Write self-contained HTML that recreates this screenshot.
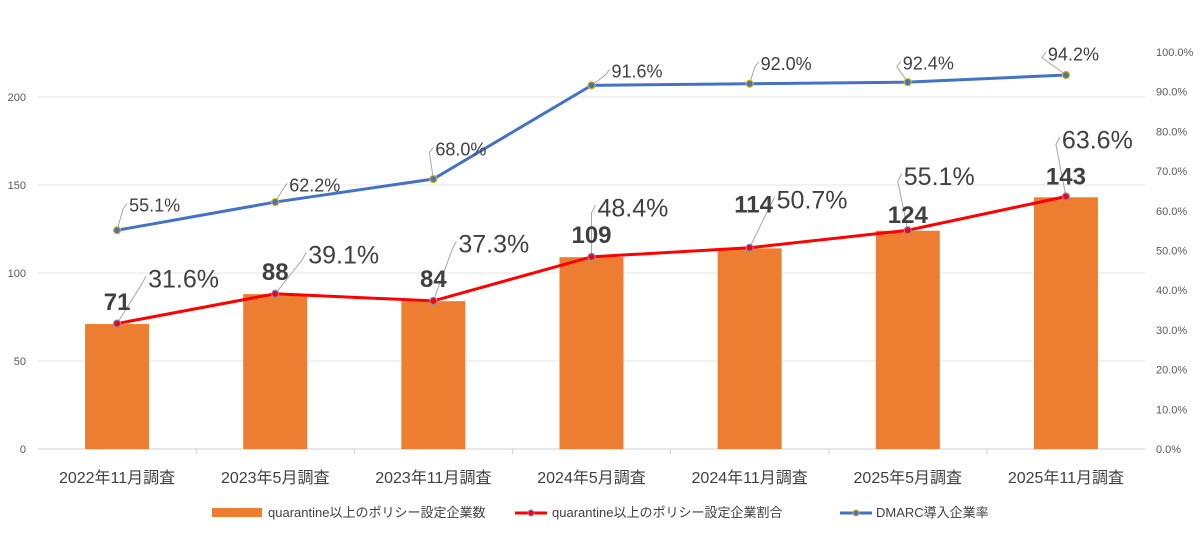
<!DOCTYPE html>
<html><head><meta charset="utf-8"><style>
body{margin:0;background:#fff;}
svg{display:block;font-family:"Liberation Sans","Noto Sans CJK JP",sans-serif;}
</style></head><body>
<svg id="c" width="1200" height="533"></svg>
<script>
const categories=["2022年11月調査","2023年5月調査","2023年11月調査","2024年5月調査","2024年11月調査","2025年5月調査","2025年11月調査"];
const barValues=[71,88,84,109,114,124,143];
const quarantineRate=[31.6,39.1,37.3,48.4,50.7,55.1,63.6];
const dmarcRate=[55.1,62.2,68.0,91.6,92.0,92.4,94.2];
const leftTicks=[0,50,100,150,200];
const rightTicks=[0,10,20,30,40,50,60,70,80,90,100];
// layout offsets (label placement relative to point)
const blueOff=[[12,-25],[14,-17],[2,-30],[20,-14],[11,-20],[-5,-19],[-18,-21]];
const redOff=[[31,-45],[33,-39],[25,-57],[6,-49],[27,-48],[-4,-54],[-4,-57]];
const barLblY=[-22,-22,-22,-22,-44,-16,-21];
const barLblX=[0,0,0,0,4,0,0];

const svg=document.getElementById('c');const NS='http://www.w3.org/2000/svg';
function mk(t,a,p){const e=document.createElementNS(NS,t);for(const k in a)e.setAttribute(k,a[k]);(p||svg).appendChild(e);return e;}
const x0=38,x1=1145,yBase=449;
const band=(x1-x0)/categories.length;
const xc=i=>x0+band*(i+0.5);
const yL=v=>yBase-v*(352/200);
const yR=v=>yBase-v*(397/100);

leftTicks.forEach(t=>{
 const g=mk('line',{x1:x0,x2:x1,y1:yL(t),y2:yL(t),stroke:t===0?'#d0d0d0':'#e4e4e4','stroke-width':1});
 
 
 const l=mk('text',{x:26,y:yL(t)+4,'font-size':11,fill:'#595959','text-anchor':'end'});l.textContent=t;
 
 
});
rightTicks.forEach(t=>{
 const l=mk('text',{x:1156,y:yR(t)+4,'font-size':11,fill:'#595959'});l.textContent=t.toFixed(1)+'%';
 
 
});
categories.forEach((c,i)=>{
 const l=mk('text',{x:xc(i),y:483,'font-size':16,fill:'#404040','text-anchor':'middle'});l.textContent=c;
 
 
});
for(let i=1;i<categories.length;i++){const tk=mk('line',{x1:x0+band*i,x2:x0+band*i,y1:yBase,y2:yBase+5,stroke:'#d0d0d0'});}
barValues.forEach((v,i)=>{
 const b=mk('rect',{x:xc(i)-32,y:yL(v),width:64,height:yBase-yL(v),fill:'#ed7d31'});
 
 
});
function line(vals,color,name,w){
 const d=vals.map((v,i)=>(i?'L':'M')+xc(i)+','+yR(v)).join('');
 const p=mk('path',{d:d,stroke:color,'stroke-width':w,fill:'none'});
 
 
}
line(dmarcRate,'#4472c4','dmarc-rate-line',3);
line(quarantineRate,'#ff0000','quarantine-rate-line',3);
function labels(vals,off,fs,mcol,name){
 vals.forEach((v,i)=>{
  const px=xc(i),py=yR(v),tx=px+off[i][0],ty=py+off[i][1];
  mk('polyline',{points:`${px},${py} ${tx-6},${ty+fs*0.2} ${tx-2},${ty-fs*0.1}`,stroke:'#a6a6a6','stroke-width':1,fill:'none'});
  const c=mk('circle',{cx:px,cy:py,r:3.5,fill:mcol[0],stroke:mcol[1],'stroke-width':1.2});
  
  
  const t=mk('text',{x:tx,y:ty+fs*0.35,'font-size':fs,fill:'#404040'});t.textContent=v.toFixed(1)+'%';
  
  
 });
}
labels(dmarcRate,blueOff,18,['#4472c4','#e0b000'],'dmarc');
labels(quarantineRate,redOff,25,['#ff0000','#6f8fd0'],'quarantine-rate');
barValues.forEach((v,i)=>{
 const t=mk('text',{x:xc(i)+barLblX[i],y:yL(v)+barLblY[i]+8,'font-size':24,'font-weight':'bold',fill:'#404040','text-anchor':'middle'});t.textContent=v;
 
 
});
// legend
const lg=mk('g',{});
mk('rect',{x:212,y:508,width:50,height:9,fill:'#ed7d31'},lg);
let t=mk('text',{x:268,y:517,'font-size':13,fill:'#404040'},lg);t.textContent='quarantine以上のポリシー設定企業数';
mk('line',{x1:515,x2:547,y1:513,y2:513,stroke:'#ff0000','stroke-width':3},lg);
mk('circle',{cx:531,cy:513,r:3,fill:'#ff0000',stroke:'#6f8fd0'},lg);
t=mk('text',{x:552,y:517,'font-size':13,fill:'#404040'},lg);t.textContent='quarantine以上のポリシー設定企業割合';
mk('line',{x1:840,x2:872,y1:513,y2:513,stroke:'#4472c4','stroke-width':3},lg);
mk('circle',{cx:856,cy:513,r:3,fill:'#4472c4',stroke:'#e0b000'},lg);
t=mk('text',{x:876,y:517,'font-size':13,fill:'#404040'},lg);t.textContent='DMARC導入企業率';
</script>
</body></html>
